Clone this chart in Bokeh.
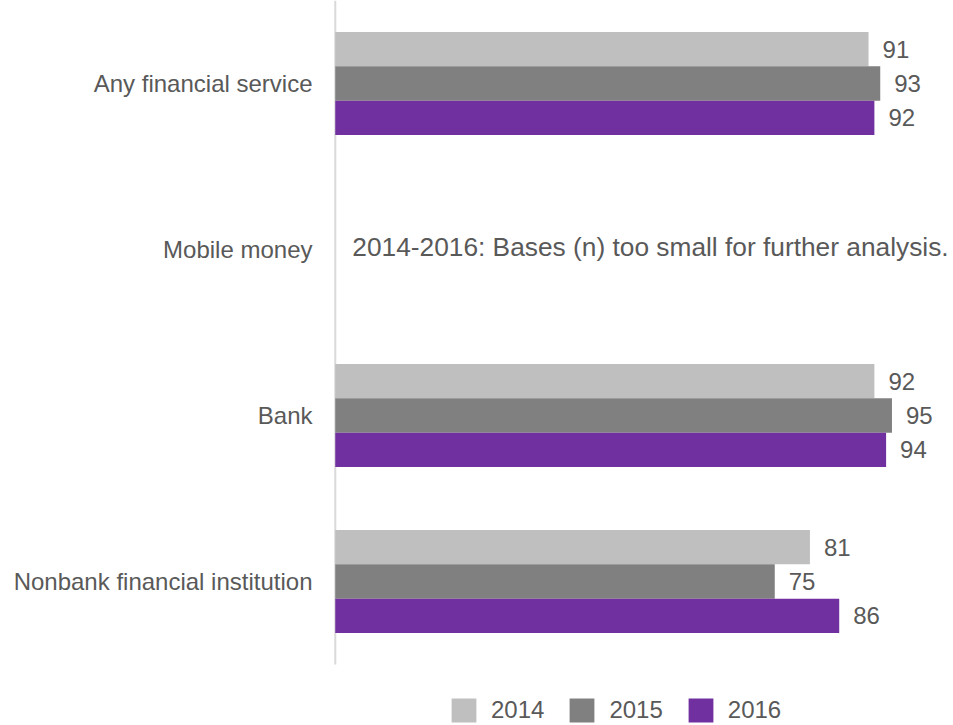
from bokeh.plotting import figure
from bokeh.models import ColumnDataSource, Range1d, FixedTicker, Legend, LegendItem
from bokeh.core.properties import value
from bokeh.transform import dodge
from bokeh.embed import file_html
from bokeh.resources import INLINE

# ---- data ----
categories = ["Any financial service", "Mobile money", "Bank", "Nonbank financial institution"]
years = ["2014", "2015", "2016"]
values_2014 = [91, None, 92, 81]
values_2015 = [93, None, 95, 75]
values_2016 = [92, None, 94, 86]
note_category = "Mobile money"
note_text = "2014-2016: Bases (n) too small for further analysis."

# ---- style ----
colors = ["#BFBFBF", "#808080", "#7030A0"]
FONT = "Liberation Sans"
TEXT = "#595959"
BAR_H = 0.207
offsets = [-BAR_H, 0.0, BAR_H]
NOTE_X = 2.9

p = figure(width=953, height=725, output_backend="svg", toolbar_location=None,
           x_range=Range1d(-0.3, 105.5), y_range=Range1d(3.8675, -0.5),
           min_border_left=333, min_border_right=0, min_border_top=0,
           min_border_bottom=0)

# category axis line (spans the category band only)
n = len(categories)
p.segment(x0=[0], y0=[-0.5], x1=[0], y1=[n - 0.5],
          line_color="#D9D9D9", line_width=2)

series = [values_2014, values_2015, values_2016]
items = []
for yr, vals, col, off in zip(years, series, colors, offsets):
    idx = [k for k, v in enumerate(vals) if v is not None]
    src = ColumnDataSource(dict(pos=idx, right=[vals[k] for k in idx],
                                label=[str(vals[k]) for k in idx]))
    r = p.hbar(y=dodge("pos", off), left=0, right="right", height=BAR_H,
               source=src, fill_color=col, line_color=None)
    p.text(x="right", y=dodge("pos", off), text="label", source=src,
           x_offset=14, text_align="left", text_baseline="middle",
           text_font=value(FONT), text_font_size="24px", text_color=TEXT)
    items.append(LegendItem(label=yr, renderers=[r]))

p.text(x=[NOTE_X], y=[categories.index(note_category)], text=[note_text],
       text_align="left", text_baseline="middle", y_offset=-2,
       text_font=value(FONT), text_font_size="26.3px", text_color=TEXT)

legend = Legend(items=items, orientation="horizontal", location=(115, 0),
                glyph_width=31, glyph_height=30, label_standoff=12, spacing=22,
                padding=0, margin=0, border_line_color=None,
                background_fill_alpha=0,
                label_text_font=FONT, label_text_font_size="24px",
                label_text_color=TEXT)
p.add_layout(legend, "center")

p.xaxis.visible = False
p.xgrid.visible = False
p.ygrid.visible = False
p.outline_line_color = None

yax = p.yaxis[0]
yax.ticker = FixedTicker(ticks=list(range(n)))
yax.major_label_overrides = {i: c for i, c in enumerate(categories)}
yax.axis_line_color = None
yax.major_tick_line_color = None
yax.minor_tick_line_color = None
yax.major_tick_out = 0
yax.major_label_standoff = 21
yax.major_label_text_font = FONT
yax.major_label_text_font_size = "24px"
yax.major_label_text_color = TEXT

open("out.html", "w").write(file_html(p, INLINE))
